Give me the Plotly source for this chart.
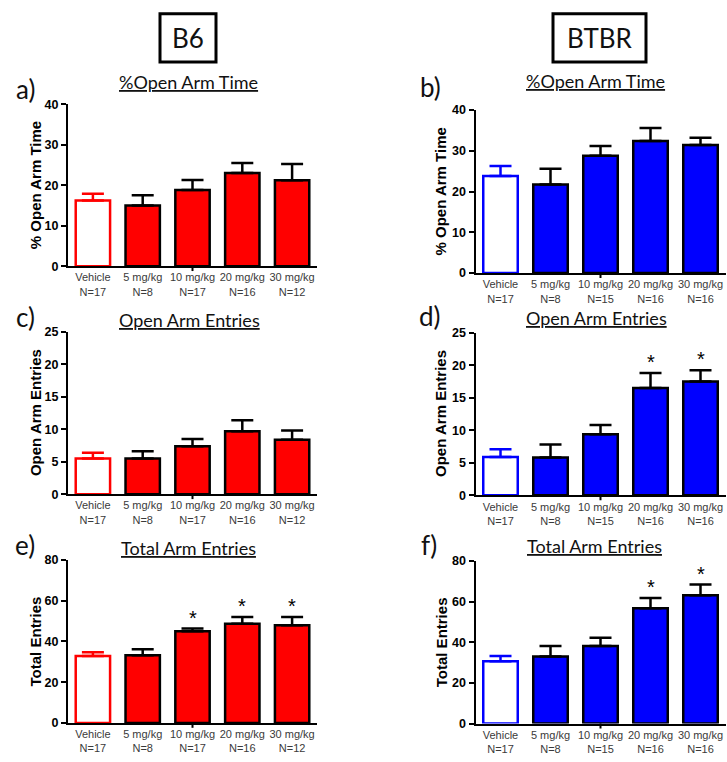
import plotly.graph_objects as go

W, H = 727, 762

# ---------------- data ----------------
categories = ["Vehicle", "5 mg/kg", "10 mg/kg", "20 mg/kg", "30 mg/kg"]
n_b6 = [17, 8, 17, 16, 12]
n_btbr = [17, 8, 15, 16, 16]

b6_open_time = [16.2, 15.0, 18.8, 23.0, 21.2]
b6_open_time_sem = [1.7, 2.5, 2.5, 2.5, 4.0]
btbr_open_time = [23.8, 21.7, 28.8, 32.4, 31.4]
btbr_open_time_sem = [2.5, 3.9, 2.4, 3.2, 1.8]

b6_open_entries = [5.5, 5.5, 7.4, 9.7, 8.4]
b6_open_entries_sem = [0.9, 1.1, 1.1, 1.7, 1.4]
btbr_open_entries = [5.9, 5.8, 9.4, 16.5, 17.5]
btbr_open_entries_sem = [1.2, 2.0, 1.4, 2.3, 1.7]

b6_total = [32.9, 33.2, 45.0, 48.7, 47.9]
b6_total_sem = [1.8, 2.9, 1.3, 3.3, 4.1]
btbr_total = [30.6, 33.0, 38.2, 56.7, 63.1]
btbr_total_sem = [2.7, 5.2, 4.0, 5.1, 5.3]

b6_open_time_sig = [False] * 5
btbr_open_time_sig = [False] * 5
b6_open_entries_sig = [False] * 5
btbr_open_entries_sig = [False, False, False, True, True]
b6_total_sig = [False, False, True, True, True]
btbr_total_sig = [False, False, False, True, True]

strains = ["B6", "BTBR"]
panel_titles = ["%Open Arm Time", "Open Arm Entries", "Total Arm Entries"]
y_titles = ["% Open Arm Time", "Open Arm Entries", "Total Entries"]
y_max = [40, 25, 80]
y_step = [10, 5, 20]
letters = ["a)", "b)", "c)", "d)", "e)", "f)"]

# ---------------- layout constants ----------------
RED = "#FF0000"
BLUE = "#0000FF"
ARIAL = "Arial, Liberation Sans, sans-serif"
CAL = "Lato, Carlito, sans-serif"

col_x = [(68, 317), (475.5, 725.5)]
rows_px = [[(99, 264), (331, 496.3), (563.3, 729.3)],
           [(105, 271), (331.7, 497.5), (564.3, 730)]]
title_pos = [[(188, 76), (189.5, 319), (188, 551)],
             [(595, 75), (596, 317), (594, 549)]]
letter_pos = [[(25, 84), (25, 316), (25, 548)],
              [(430, 82), (430, 315), (429, 548)]]
ytitle_x = [35, 441]


def px(x):
    return x / W


def py(y):
    return 1 - y / H


panel_data = [
    [(b6_open_time, b6_open_time_sem, b6_open_time_sig),
     (b6_open_entries, b6_open_entries_sem, b6_open_entries_sig),
     (b6_total, b6_total_sem, b6_total_sig)],
    [(btbr_open_time, btbr_open_time_sem, btbr_open_time_sig),
     (btbr_open_entries, btbr_open_entries_sem, btbr_open_entries_sig),
     (btbr_total, btbr_total_sem, btbr_total_sig)],
]
colors = [RED, BLUE]
ns = [n_b6, n_btbr]

fig = go.Figure()
annotations = []
shapes = []
layout_axes = {}

idx = 0
for r in range(3):
    for c in range(2):
        idx += 1
        xa = "x" if idx == 1 else f"x{idx}"
        ya = "y" if idx == 1 else f"y{idx}"
        vals, sems, sig = panel_data[c][r]
        col = colors[c]
        top, bot = rows_px[c][r]
        x0, x1 = col_x[c]

        fig.add_trace(go.Bar(
            x=categories[:1], y=vals[:1], xaxis=xa, yaxis=ya, width=0.69,
            marker=dict(color="white", line=dict(color=col, width=2.5)),
            error_y=dict(type="data", symmetric=False, array=sems[:1],
                         arrayminus=[0], color=col, thickness=2.5, width=11),
            showlegend=False, hoverinfo="skip"))
        fig.add_trace(go.Bar(
            x=categories[1:], y=vals[1:], xaxis=xa, yaxis=ya, width=0.69,
            marker=dict(color=col, line=dict(color="black", width=2.5)),
            error_y=dict(type="data", symmetric=False, array=sems[1:],
                         arrayminus=[0] * 4, color="black", thickness=2.5, width=11),
            showlegend=False, hoverinfo="skip"))

        ticktext = [f"{cat}<br>N={n}" for cat, n in zip(categories, ns[c])]
        layout_axes["xaxis" if idx == 1 else f"xaxis{idx}"] = dict(
            domain=[px(x0), px(x1)], anchor=ya, type="category",
            range=[-0.5, 4.5], tickmode="array", tickvals=categories,
            ticktext=ticktext, ticks="", showline=True, linecolor="black",
            linewidth=2, showgrid=False, zeroline=False,
            tickfont=dict(family=ARIAL, size=11, color="#3a3a3a"))
        layout_axes["yaxis" if idx == 1 else f"yaxis{idx}"] = dict(
            domain=[py(bot), py(top)], anchor=xa, range=[0, y_max[r]],
            dtick=y_step[r], tick0=0, ticks="outside", ticklen=5, tickwidth=2,
            tickcolor="black", showline=True, linecolor="black", linewidth=2,
            showgrid=False, zeroline=False,
            tickfont=dict(family=ARIAL, size=12.5, color="black",
                          weight="bold"))

        shapes.append(dict(type="line", xref=xa, yref="paper",
                           x0=categories[2], x1=categories[2],
                           y0=py(bot), y1=py(bot + 5),
                           line=dict(color="black", width=2)))

        for cat, v, s, g in zip(categories, vals, sems, sig):
            if g:
                annotations.append(dict(
                    xref=xa, yref=ya, x=cat, y=v + s, text="*",
                    showarrow=False, yanchor="bottom", yshift=-2,
                    font=dict(family=ARIAL, size=20, color="black")))

        annotations.append(dict(
            xref="paper", yref="paper", x=px(ytitle_x[c]),
            y=py((top + bot) / 2), text=y_titles[r], textangle=-90,
            showarrow=False, xanchor="center", yanchor="middle",
            font=dict(family=ARIAL, size=15, color="black", weight="bold")))

        tx, ty = title_pos[c][r]
        annotations.append(dict(
            xref="paper", yref="paper", x=px(tx), y=py(ty),
            text=f"<u>{panel_titles[r]}</u>", showarrow=False,
            xanchor="center", yanchor="middle",
            font=dict(family=CAL, size=18, color="#111111")))

        lx, ly = letter_pos[c][r]
        annotations.append(dict(
            xref="paper", yref="paper", x=px(lx), y=py(ly),
            text=letters[idx - 1], showarrow=False,
            xanchor="center", yanchor="middle",
            font=dict(family=CAL, size=26, color="#111111")))

box_px = [(160, 7, 216, 56), (553, 7, 646, 56)]
for name, (bx0, by0, bx1, by1) in zip(strains, box_px):
    shapes.append(dict(type="rect", xref="paper", yref="paper",
                       x0=px(bx0), x1=px(bx1), y0=py(by1), y1=py(by0),
                       line=dict(color="black", width=3), fillcolor="white",
                       layer="below"))
    annotations.append(dict(
        xref="paper", yref="paper", x=px((bx0 + bx1) / 2),
        y=py((by0 + by1) / 2), text=name, showarrow=False,
        xanchor="center", yanchor="middle",
        font=dict(family=CAL, size=26, color="#111111")))

fig.update_layout(
    width=W, height=H, margin=dict(l=0, r=0, t=0, b=0),
    paper_bgcolor="white", plot_bgcolor="white", barmode="overlay",
    annotations=annotations, shapes=shapes, **layout_axes)

fig.write_html(
    "out.html",
    config={"displayModeBar": False},
    post_script="document.body.style.margin='0';"
                "document.body.style.overflow='hidden';")
